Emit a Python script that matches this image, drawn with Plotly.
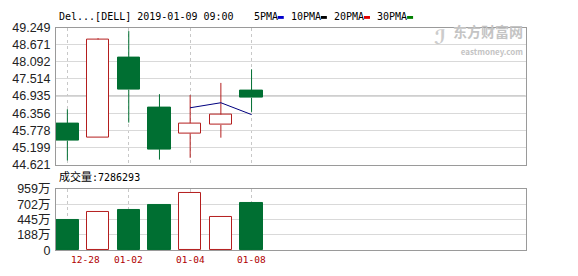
import plotly.graph_objects as go

# ---------------- data ----------------
DATES = ["12-28", "12-31", "01-02", "01-03", "01-04", "01-07", "01-08"]
OPEN = [46.00, 45.52, 48.22, 46.55, 45.67, 45.96, 47.13]
HIGH = [46.49, 48.89, 49.13, 47.00, 46.97, 47.38, 47.84]
LOW = [44.76, 45.52, 46.04, 44.79, 44.85, 45.53, 46.40]
CLOSE = [45.43, 48.85, 47.14, 45.14, 46.02, 46.31, 46.88]
MA5 = [None, None, None, None, 46.54, 46.71, 46.31]
VOLUME_WAN = [445, 567, 609, 688, 891, 488, 728.6293]   # unit: 万
LAST_VOLUME = "7286293"

PRICE_TICK_TEXT = ["44.621", "45.199", "45.778", "46.356", "46.935",
                   "47.514", "48.092", "48.671", "49.249"]
VOL_TICK_VALS = [-69, 188, 445, 702, 959]
VOL_TICK_TEXT = ["0", "188万", "445万", "702万", "959万"]
LABELED_DATES = ["12-28", "01-02", "01-04", "01-08"]
TITLE = "Del...[DELL] 2019-01-09 09:00"
LEGEND = [("5PMA", "#0000cc"), ("10PMA", "#000000"), ("20PMA", "#e00000"), ("30PMA", "#008000")]

# ---------------- style ----------------
W, H = 578, 276
RED = "#b41e1e"
GREEN = "#006f32"
BLUE = "#00007f"
GRID = "#d9d9d9"
BORDER = "#9a9a9a"
MONO = "DejaVu Sans Mono, Liberation Mono, monospace"
SANS = "Liberation Sans, Arial, Noto Sans CJK SC, sans-serif"

def px_x(p):
    return p / W

def px_y(p):
    return 1 - p / H

X_DOM = [px_x(56), px_x(525.7)]
Y1_DOM = [px_y(166), px_y(21.7)]
Y2_DOM = [px_y(256.3), px_y(191.7)]

idx = list(range(len(DATES)))
price_ticks = [float(t) for t in PRICE_TICK_TEXT]
vol_min = VOL_TICK_VALS[0]
vol_max = VOL_TICK_VALS[-1]

fig = go.Figure()

# wicks (split so they do not cross hollow bodies)
for up in (True, False):
    xs, ys = [], []
    for i in idx:
        if (CLOSE[i] >= OPEN[i]) != up:
            continue
        top = max(OPEN[i], CLOSE[i])
        bot = min(OPEN[i], CLOSE[i])
        xs += [i, i, None, i, i, None]
        ys += [top, HIGH[i], None, LOW[i], bot, None]
    fig.add_trace(go.Scatter(x=xs, y=ys, mode="lines",
                             line=dict(color=RED if up else GREEN, width=1),
                             hoverinfo="skip", showlegend=False,
                             xaxis="x", yaxis="y"))

# bodies
for up in (True, False):
    sel = [i for i in idx if (CLOSE[i] >= OPEN[i]) == up]
    fig.add_trace(go.Bar(
        x=sel,
        base=[OPEN[i] for i in sel],
        y=[CLOSE[i] - OPEN[i] for i in sel],
        width=0.73,
        marker=dict(color="#ffffff" if up else GREEN,
                    line=dict(color=RED if up else GREEN, width=1)),
        showlegend=False, xaxis="x", yaxis="y"))

# MA5 line
fig.add_trace(go.Scatter(x=idx, y=MA5, mode="lines",
                         line=dict(color=BLUE, width=1),
                         showlegend=False, xaxis="x", yaxis="y"))

# volume bars
for up in (True, False):
    sel = [i for i in idx if (CLOSE[i] >= OPEN[i]) == up]
    fig.add_trace(go.Bar(
        x=sel,
        base=[vol_min] * len(sel),
        y=[VOLUME_WAN[i] - vol_min for i in sel],
        width=0.73,
        marker=dict(color="#ffffff" if up else GREEN,
                    line=dict(color=RED if up else GREEN, width=1)),
        showlegend=False, xaxis="x2", yaxis="y2"))

label_idx = [DATES.index(d) for d in LABELED_DATES]
x_range = [-0.37, 14.93]

axis_common = dict(showline=True, mirror=True, linecolor=BORDER, linewidth=1,
                   zeroline=False, fixedrange=True)

fig.update_layout(
    width=W, height=H,
    margin=dict(l=0, r=0, t=0, b=0),
    paper_bgcolor="white", plot_bgcolor="white",
    barmode="overlay", bargap=0,
    showlegend=False,
    xaxis=dict(domain=X_DOM, range=x_range, tickvals=label_idx,
               showticklabels=False, ticks="", showgrid=True,
               gridcolor="#c8c8c8", griddash="3px,3px", gridwidth=1,
               **axis_common),
    xaxis2=dict(domain=X_DOM, range=x_range, anchor="y2", matches="x",
                tickvals=label_idx, showticklabels=False, ticks="",
                showgrid=True, gridcolor="#c8c8c8", griddash="3px,3px",
                gridwidth=1, **axis_common),
    yaxis=dict(domain=Y1_DOM, range=[price_ticks[0], price_ticks[-1]],
               tickvals=price_ticks, ticktext=PRICE_TICK_TEXT,
               ticks="", showgrid=True, gridcolor=GRID, gridwidth=1,
               tickfont=dict(family=SANS, size=12.5, color="#222"),
               ticklabelstandoff=2, **axis_common),
    yaxis2=dict(domain=Y2_DOM, anchor="x2", range=[vol_min, vol_max],
                tickvals=VOL_TICK_VALS, ticktext=VOL_TICK_TEXT,
                ticks="", showgrid=True, gridcolor=GRID, gridwidth=1,
                tickfont=dict(family=SANS, size=12.5, color="#222"),
                ticklabelstandoff=2, **axis_common),
)

# darker middle gridline
mid = price_ticks[len(price_ticks) // 2]
fig.add_shape(type="line", xref="x domain", yref="y", x0=0, x1=1, y0=mid, y1=mid,
              line=dict(color="#8c8c8c", width=1), layer="below")

ann = []
ann.append(dict(text=TITLE, x=px_x(57), y=px_y(10), xref="paper", yref="paper",
                xanchor="left", yanchor="middle", showarrow=False,
                font=dict(family=MONO, size=10, color="#000")))

# legend entries
lx = 251.7
for name, col in LEGEND:
    ann.append(dict(text=name, x=px_x(lx), y=px_y(10), xref="paper", yref="paper",
                    xanchor="left", yanchor="middle", showarrow=False,
                    font=dict(family=MONO, size=10, color="#000")))
    mx = lx + len(name) * 6.02 + 2
    fig.add_shape(type="rect", xref="paper", yref="paper",
                  x0=px_x(mx), x1=px_x(mx + 6), y0=px_y(12.5), y1=px_y(9.5),
                  fillcolor=col, line=dict(width=0))
    lx = mx + 11

ann.append(dict(text="<span style='font-size:11px'>成交量</span>:" + LAST_VOLUME,
                x=px_x(57), y=px_y(179), xref="paper", yref="paper",
                xanchor="left", yanchor="middle", showarrow=False,
                font=dict(family="DejaVu Sans Mono, Noto Sans CJK SC", size=10, color="#000")))

for k, i in enumerate(label_idx):
    ann.append(dict(text=DATES[i], x=i, y=px_y(266.5), xref="x2", yref="paper",
                    xanchor="left" if k == 0 else "center", xshift=2 if k == 0 else 0,
                    yanchor="middle", showarrow=False,
                    font=dict(family=MONO, size=9.5, color="#b00000")))

# watermark (single text block: brand + site)
ann.append(dict(text="<b>东方财富网</b><br><span style='font-size:8px'><b>eastmoney.com</b></span>",
                x=px_x(525), y=px_y(34), xref="paper", yref="paper",
                xanchor="right", yanchor="middle", align="right", showarrow=False,
                font=dict(family="Noto Sans CJK SC, DejaVu Sans", size=14, color="#c4c4c4")))
ann.append(dict(text="<b>ℐ</b>", x=px_x(440), y=px_y(32), xref="paper", yref="paper",
                xanchor="center", yanchor="middle", showarrow=False,
                font=dict(family="DejaVu Sans", size=20, color="#cccccc")))

fig.update_layout(annotations=ann)
fig.write_html("out.html")
